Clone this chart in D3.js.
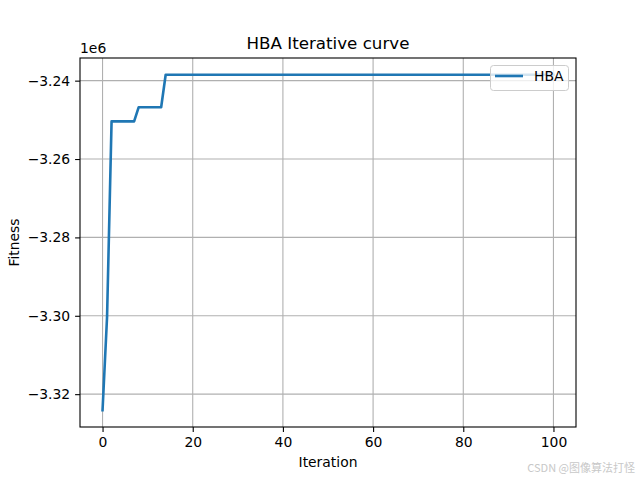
<!DOCTYPE html>
<html><head><meta charset="utf-8">
<script src="https://cdn.jsdelivr.net/npm/d3@7"></script>
<style>body{margin:0;background:#fff}svg{display:block}text{font-family:"DejaVu Sans",sans-serif}</style>
</head><body><svg id="c" width="640" height="480"></svg>
<script>
const iterations = d3.range(0, 101);
const fitness = [
 -3324100, -3300300,
 -3250400, -3250400, -3250400, -3250400, -3250400, -3250400,
 -3246800, -3246800, -3246800, -3246800, -3246800, -3246800,
 -3238500, -3238500, -3238500, -3238500, -3238500, -3238500, -3238500, -3238500, -3238500, -3238500,
 -3238500, -3238500, -3238500, -3238500, -3238500, -3238500, -3238500, -3238500, -3238500, -3238500,
 -3238500, -3238500, -3238500, -3238500, -3238500, -3238500, -3238500, -3238500, -3238500, -3238500,
 -3238500, -3238500, -3238500, -3238500, -3238500, -3238500, -3238500, -3238500, -3238500, -3238500,
 -3238500, -3238500, -3238500, -3238500, -3238500, -3238500, -3238500, -3238500, -3238500, -3238500,
 -3238500, -3238500, -3238500, -3238500, -3238500, -3238500, -3238500, -3238500, -3238500, -3238500,
 -3238500, -3238500, -3238500, -3238500, -3238500, -3238500, -3238500, -3238500, -3238500, -3238500,
 -3238500, -3238500, -3238500, -3238500, -3238500, -3238500, -3238500, -3238500, -3238500, -3238500,
 -3238500, -3238500, -3238500, -3238500, -3238500, -3238500, -3238500
];
const xTicks = [0, 20, 40, 60, 80, 100];
const yTicks = [-3320000, -3300000, -3280000, -3260000, -3240000];
const seriesName = "HBA";

const svg = d3.select("#c");
const L = 80, R = 576, T = 58, B = 427;
const xmin = d3.min(iterations), xmax = d3.max(iterations);
const xpad = (xmax - xmin) * 0.05;
const ymin = d3.min(fitness), ymax = d3.max(fitness);
const ypad = (ymax - ymin) * 0.05;
const x = d3.scaleLinear().domain([xmin - xpad, xmax + xpad]).range([L, R]);
const y = d3.scaleLinear().domain([ymin - ypad, ymax + ypad]).range([B, T]);

// grid
const g = svg.append("g");
g.selectAll(".gx").data(xTicks).join("line")
  .attr("x1", d => x(d)).attr("x2", d => x(d)).attr("y1", T).attr("y2", B)
  .attr("stroke", "#b0b0b0").attr("stroke-width", 1.1);
g.selectAll(".gy").data(yTicks).join("line")
  .attr("y1", d => y(d)).attr("y2", d => y(d)).attr("x1", L).attr("x2", R)
  .attr("stroke", "#b0b0b0").attr("stroke-width", 1.1);

// line
svg.append("path").datum(iterations.map((d, i) => [d, fitness[i]]))
  .attr("fill", "none").attr("stroke", "#1f77b4").attr("stroke-width", 2.6)
  .attr("stroke-linejoin", "round").attr("stroke-linecap", "square")
  .attr("d", d3.line().x(d => x(d[0])).y(d => y(d[1])));

// axes
const fmtY = d => (d / 1e6).toFixed(2).replace("-", "\u2212");
const xAxis = d3.axisBottom(x).tickValues(xTicks).tickSize(4.9).tickPadding(4.9).tickFormat(d3.format("d"));
const yAxis = d3.axisLeft(y).tickValues(yTicks).tickSize(4.9).tickPadding(4.9).tickFormat(fmtY);
const ax = svg.append("g").attr("transform", `translate(0,${B})`).call(xAxis);
const ay = svg.append("g").attr("transform", `translate(${L},0)`).call(yAxis);
[ax, ay].forEach(a => {
  a.select(".domain").remove();
  a.selectAll("line").attr("stroke", "#000").attr("stroke-width", 1.1);
  a.selectAll("text").attr("font-size", 13.9).attr("fill", "#000").style("font-family", "DejaVu Sans");
});

// frame
svg.append("rect").attr("x", L).attr("y", T).attr("width", R - L).attr("height", B - T)
  .attr("fill", "none").attr("stroke", "#000").attr("stroke-width", 1.1);

// texts
svg.append("text").attr("x", (L + R) / 2).attr("y", 49).attr("text-anchor", "middle")
  .attr("font-size", 16.7).text("HBA Iterative curve");
svg.append("text").attr("x", L).attr("y", 53).attr("font-size", 13.9).text("1e6");
svg.append("text").attr("x", (L + R) / 2).attr("y", 467).attr("text-anchor", "middle")
  .attr("font-size", 13.9).text("Iteration");
svg.append("text").attr("transform", `translate(19,${(T + B) / 2}) rotate(-90)`).attr("text-anchor", "middle")
  .attr("font-size", 13.9).text("Fitness");

// legend
const lg = svg.append("g");
lg.append("rect").attr("x", 490.5).attr("y", 65.5).attr("width", 78).attr("height", 25).attr("rx", 3)
  .attr("fill", "#fff").attr("fill-opacity", 0.8).attr("stroke", "#cccccc").attr("stroke-width", 1);
lg.append("line").attr("x1", 495).attr("x2", 523).attr("y1", 76).attr("y2", 76)
  .attr("stroke", "#1f77b4").attr("stroke-width", 2.6);
lg.append("text").attr("x", 534).attr("y", 81).attr("font-size", 13.9).text(seriesName);

// watermark
svg.append("text").attr("x", 635).attr("y", 472).attr("text-anchor", "end")
  .attr("font-size", 11).attr("fill", "#c8c8c8").style("font-family", "Noto Sans CJK SC")
  .text("CSDN @图像算法打怪");
</script></body></html>
